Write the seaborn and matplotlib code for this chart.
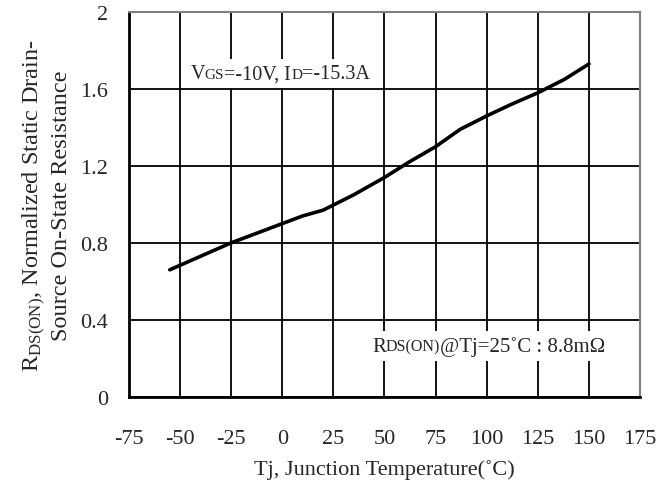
import matplotlib
matplotlib.use("Agg")
import matplotlib.pyplot as plt
import seaborn as sns
import pandas as pd
from matplotlib.offsetbox import TextArea, HPacker, AnchoredOffsetbox

# Normalized RDS(ON) vs junction temperature
temp_c = [-55, -40, -25, -10, 0, 10, 20, 35, 50, 62, 75, 87, 100, 112, 125, 138, 150]
rds_norm = [0.66, 0.73, 0.80, 0.86, 0.90, 0.94, 0.97, 1.05, 1.14, 1.22, 1.30, 1.39, 1.46, 1.52, 1.58, 1.65, 1.73]

x_ticks = [-75, -50, -25, 0, 25, 50, 75, 100, 125, 150, 175]
y_ticks = [0, 0.4, 0.8, 1.2, 1.6, 2]
y_tick_labels = ["0", "0.4", "0.8", "1.2", "1.6", "2"]

SERIF = "Liberation Serif"

sns.set_style("white")
plt.rcParams["font.family"] = [SERIF, "DejaVu Serif"]
plt.rcParams["mathtext.fontset"] = "custom"
plt.rcParams["mathtext.rm"] = SERIF
plt.rcParams["mathtext.it"] = SERIF + ":italic"

df = pd.DataFrame({"Tj": temp_c, "Rds": rds_norm})

fig, ax = plt.subplots(figsize=(6.71, 4.81), dpi=100)
fig.subplots_adjust(left=0.192, right=0.954, top=0.973, bottom=0.173)

ax.grid(True, color="black", linewidth=1.3)
ax.set_axisbelow(True)
sns.lineplot(data=df, x="Tj", y="Rds", ax=ax, color="black", linewidth=2.6)

ax.set_xlim(-75, 175)
ax.set_ylim(0, 2)
ax.set_xticks(x_ticks)
ax.set_xticklabels([str(t) for t in x_ticks])
ax.set_yticks(y_ticks)
ax.set_yticklabels(y_tick_labels)
ax.tick_params(length=0, labelsize=16)
ax.tick_params(axis="x", pad=23)
ax.tick_params(axis="y", pad=15)

for side in ["left", "bottom"]:
    ax.spines[side].set_color("black")
    ax.spines[side].set_linewidth(2)
for side in ["top", "right"]:
    ax.spines[side].set_color("#808080")
    ax.spines[side].set_linewidth(1.5)

ax.set_xlabel("Tj, Junction Temperature(\u02daC)", fontsize=16, labelpad=8)
ax.set_ylabel("R$_{\\mathrm{DS(ON)}}$, Normalized Static Drain-\nSource On-State Resistance",
              fontsize=17.5, labelpad=6, linespacing=1.15)


def label_box(parts, loc_xy):
    areas = [TextArea(t, textprops=dict(fontsize=s, family=SERIF)) for t, s in parts]
    box = HPacker(children=areas, align="baseline", pad=0, sep=0)
    anchored = AnchoredOffsetbox(loc="center", child=box, pad=0.35, borderpad=0,
                                 frameon=True, bbox_to_anchor=loc_xy,
                                 bbox_transform=ax.transData)
    anchored.patch.set_edgecolor("none")
    anchored.patch.set_facecolor("white")
    ax.add_artist(anchored)


label_box([("V", 14.5), ("GS", 11), ("=-10V, I", 14.5), ("D", 11), ("=-15.3A", 14.5)], (-1, 1.68))
label_box([("R", 15), ("DS(ON)", 11.5), ("@Tj=25\u02daC : 8.8m\u03a9", 15)], (101, 0.265))

plt.savefig("out.png", dpi=100)
plt.close()
